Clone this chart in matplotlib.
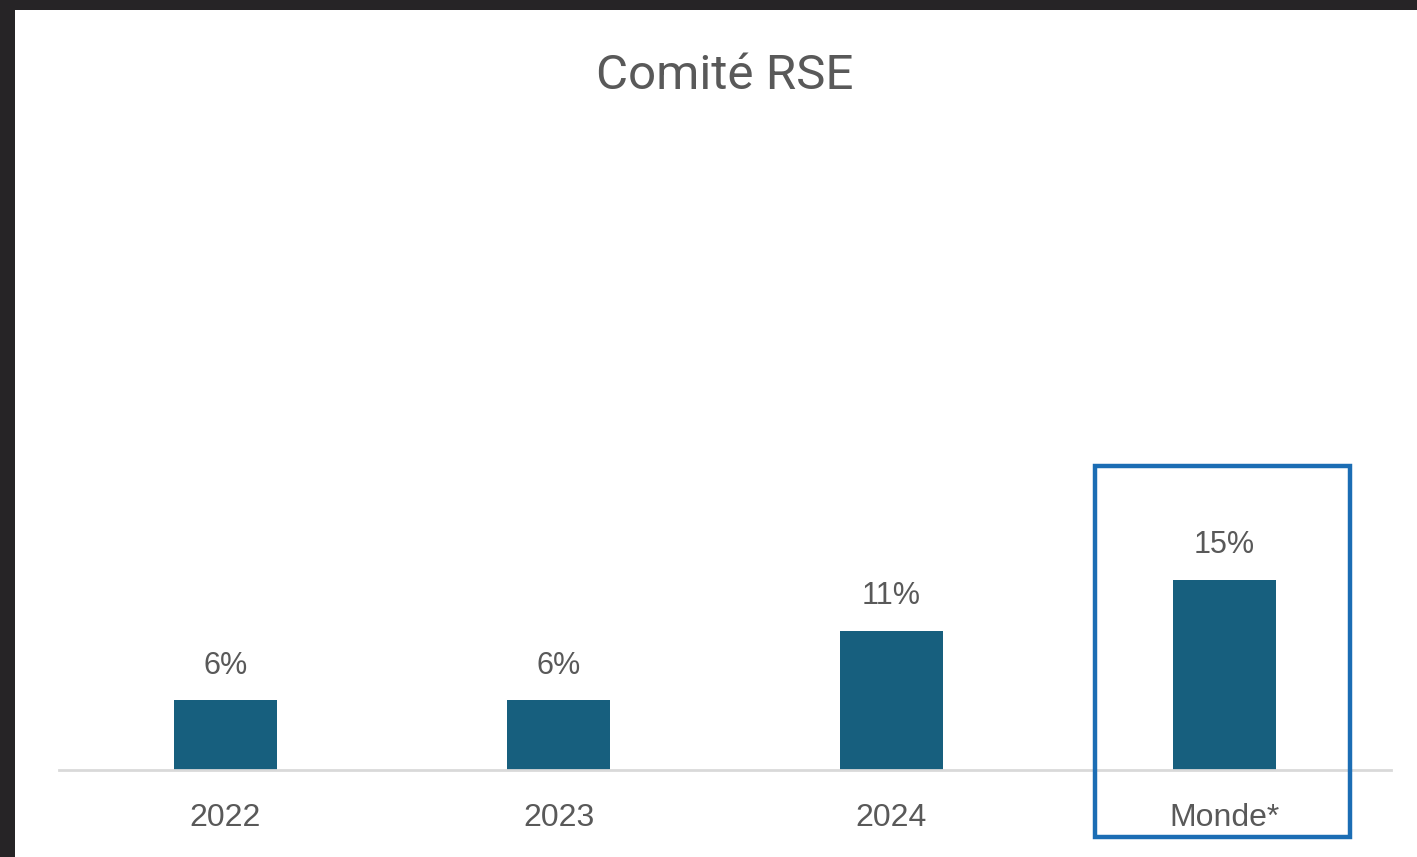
import matplotlib.pyplot as plt
from matplotlib.patches import Rectangle

# data
categories = ["2022", "2023", "2024", "Monde*"]
values = [5.5, 5.5, 11.0, 15.0]
highlight = "Monde*"

bar_color = "#175f7e"
text_color = "#595959"
box_color = "#1b6db4"


def main():
    fig = plt.figure(figsize=(14.17, 8.57), dpi=100)
    fig.patch.set_facecolor("white")
    # dark strips on top and left (screenshot frame)
    for r in [(0, 0, 15 / 1417, 1), (0, 1 - 10 / 857, 1, 10 / 857)]:
        fig.patches.append(Rectangle(r[:2], r[2], r[3], transform=fig.transFigure,
                                     facecolor="#262426", edgecolor="none"))

    ax = fig.add_axes([59 / 1417, 1 - 770 / 857, (1391 - 59) / 1417, (770 - 140) / 857])
    ax.set_facecolor("none")

    x = list(range(len(categories)))
    ax.bar(x, values, width=0.31, color=bar_color, zorder=2)

    for xi, v in zip(x, values):
        ax.annotate(f"{round(v + 0.01)}%", (xi, v), xytext=(0, 19),
                    textcoords="offset points", ha="center", va="baseline",
                    fontsize=22, color=text_color, family="Liberation Sans")

    ax.set_xlim(-0.5, len(categories) - 0.5)
    ax.set_ylim(0, 49.7)
    ax.set_yticks([])
    ax.set_xticks(x)
    ax.set_xticklabels(categories, fontsize=23, color=text_color, family="Liberation Sans")
    ax.tick_params(axis="x", length=0, pad=24)

    for s in ["top", "right", "left"]:
        ax.spines[s].set_visible(False)
    ax.spines["bottom"].set_color("#d9d9d9")
    ax.spines["bottom"].set_linewidth(2)

    # highlight box around the world average
    hi = categories.index(highlight)
    ax.add_patch(Rectangle((hi - 0.39, -5.29), 0.768, 29.3, fill=False,
                           edgecolor=box_color, linewidth=3.2, clip_on=False, zorder=3))

    fig.text(725 / 1417, 1 - 76 / 857, "Comité RSE", ha="center", va="center",
             fontsize=35.5, color=text_color, family="Roboto")

    fig.savefig("out.png", dpi=100)


if __name__ == "__main__":
    main()
